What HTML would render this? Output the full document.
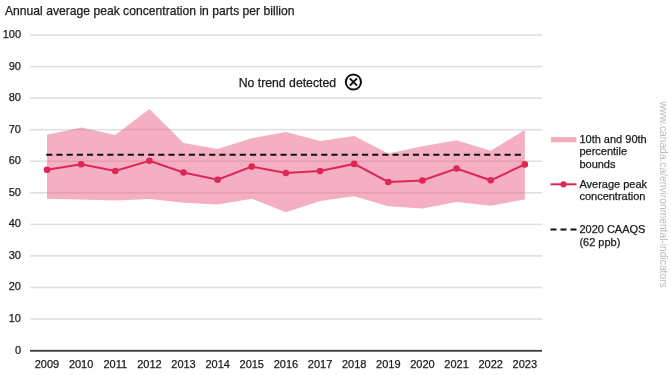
<!DOCTYPE html>
<html><head><meta charset="utf-8"><style>
html,body{margin:0;padding:0;background:#fff;}
body{width:671px;height:375px;overflow:hidden;}
svg{display:block;will-change:transform;font-family:"Liberation Sans",sans-serif;}
</style></head><body>
<svg width="671" height="375" viewBox="0 0 671 375">
<rect width="671" height="375" fill="#fff"/>
<text x="5" y="15.3" font-size="12.15" fill="#1a1a1a" stroke="#1a1a1a" stroke-width="0.25">Annual average peak concentration in parts per billion</text>
<g font-size="11" fill="#1a1a1a" stroke="#1a1a1a" stroke-width="0.25">
<text x="21" y="353.60" text-anchor="end">0</text>
<text x="21" y="322.04" text-anchor="end">10</text>
<text x="21" y="290.48" text-anchor="end">20</text>
<text x="21" y="258.92" text-anchor="end">30</text>
<text x="21" y="227.36" text-anchor="end">40</text>
<text x="21" y="195.80" text-anchor="end">50</text>
<text x="21" y="164.24" text-anchor="end">60</text>
<text x="21" y="132.68" text-anchor="end">70</text>
<text x="21" y="101.12" text-anchor="end">80</text>
<text x="21" y="69.56" text-anchor="end">90</text>
<text x="21" y="38.00" text-anchor="end">100</text>

</g>
<rect x="30" y="318.24" width="512.2" height="1.6" fill="#e0e0e0"/>
<rect x="30" y="286.68" width="512.2" height="1.6" fill="#e0e0e0"/>
<rect x="30" y="255.12" width="512.2" height="1.6" fill="#e0e0e0"/>
<rect x="30" y="223.56" width="512.2" height="1.6" fill="#e0e0e0"/>
<rect x="30" y="192.00" width="512.2" height="1.6" fill="#e0e0e0"/>
<rect x="30" y="160.44" width="512.2" height="1.6" fill="#e0e0e0"/>
<rect x="30" y="128.88" width="512.2" height="1.6" fill="#e0e0e0"/>
<rect x="30" y="97.32" width="512.2" height="1.6" fill="#e0e0e0"/>
<rect x="30" y="65.76" width="512.2" height="1.6" fill="#e0e0e0"/>
<rect x="30" y="34.20" width="512.2" height="1.6" fill="#e0e0e0"/>

<path d="M47.00,134.75 L81.13,127.50 L115.26,134.90 L149.39,109.00 L183.51,143.10 L217.64,148.90 L251.77,138.20 L285.90,132.00 L320.03,141.00 L354.16,136.00 L388.29,153.60 L422.41,146.20 L456.54,140.30 L490.67,150.80 L524.80,130.00 L524.80,199.50 L490.67,205.80 L456.54,202.10 L422.41,208.50 L388.29,206.20 L354.16,196.20 L320.03,201.00 L285.90,212.20 L251.77,198.70 L217.64,204.40 L183.51,202.70 L149.39,198.90 L115.26,200.50 L81.13,199.50 L47.00,198.70 Z" fill="#e8577f" fill-opacity="0.48"/>
<line x1="46.26" y1="154.8" x2="521" y2="154.8" stroke="#111" stroke-width="2" stroke-dasharray="6.1 4.085"/>
<path d="M47.00,169.70 L81.13,164.30 L115.26,171.00 L149.39,160.80 L183.51,172.50 L217.64,179.80 L251.77,166.60 L285.90,173.00 L320.03,171.00 L354.16,163.90 L388.29,182.00 L422.41,180.50 L456.54,168.50 L490.67,180.30 L524.80,164.40" fill="none" stroke="#de2657" stroke-width="2"/>
<g fill="#de2657"><circle cx="47.00" cy="169.70" r="3.3"/><circle cx="81.13" cy="164.30" r="3.3"/><circle cx="115.26" cy="171.00" r="3.3"/><circle cx="149.39" cy="160.80" r="3.3"/><circle cx="183.51" cy="172.50" r="3.3"/><circle cx="217.64" cy="179.80" r="3.3"/><circle cx="251.77" cy="166.60" r="3.3"/><circle cx="285.90" cy="173.00" r="3.3"/><circle cx="320.03" cy="171.00" r="3.3"/><circle cx="354.16" cy="163.90" r="3.3"/><circle cx="388.29" cy="182.00" r="3.3"/><circle cx="422.41" cy="180.50" r="3.3"/><circle cx="456.54" cy="168.50" r="3.3"/><circle cx="490.67" cy="180.30" r="3.3"/><circle cx="524.80" cy="164.40" r="3.3"/></g>
<rect x="30" y="349.9" width="512" height="1.8" fill="#3a3a3a"/>
<g font-size="11" fill="#1a1a1a" stroke="#1a1a1a" stroke-width="0.25"><text x="47.00" y="367.6" text-anchor="middle">2009</text><text x="81.13" y="367.6" text-anchor="middle">2010</text><text x="115.26" y="367.6" text-anchor="middle">2011</text><text x="149.39" y="367.6" text-anchor="middle">2012</text><text x="183.51" y="367.6" text-anchor="middle">2013</text><text x="217.64" y="367.6" text-anchor="middle">2014</text><text x="251.77" y="367.6" text-anchor="middle">2015</text><text x="285.90" y="367.6" text-anchor="middle">2016</text><text x="320.03" y="367.6" text-anchor="middle">2017</text><text x="354.16" y="367.6" text-anchor="middle">2018</text><text x="388.29" y="367.6" text-anchor="middle">2019</text><text x="422.41" y="367.6" text-anchor="middle">2020</text><text x="456.54" y="367.6" text-anchor="middle">2021</text><text x="490.67" y="367.6" text-anchor="middle">2022</text><text x="524.80" y="367.6" text-anchor="middle">2023</text></g>
<text x="238.7" y="86.6" font-size="12.25" fill="#1a1a1a" stroke="#1a1a1a" stroke-width="0.25">No trend detected</text>
<circle cx="353.4" cy="82.0" r="7.6" fill="none" stroke="#111" stroke-width="2"/>
<path d="M349.8,78.4 L357.0,85.6 M357.0,78.4 L349.8,85.6" stroke="#111" stroke-width="2"/>
<rect x="550.8" y="137.1" width="25.5" height="5.2" fill="#f2acbd"/>
<g font-size="11" fill="#1a1a1a" stroke="#1a1a1a" stroke-width="0.25">
<text x="579.4" y="142.6">10th and 90th</text>
<text x="579.4" y="155.1">percentile</text>
<text x="579.4" y="167.6">bounds</text>
<text x="579.4" y="187.9">Average peak</text>
<text x="579.4" y="200.4">concentration</text>
<text x="579.4" y="233.0">2020 CAAQS</text>
<text x="579.4" y="245.5">(62 ppb)</text>
</g>
<line x1="550.5" y1="184.3" x2="576.5" y2="184.3" stroke="#de2657" stroke-width="2"/>
<circle cx="563.5" cy="184.3" r="3.1" fill="#de2657"/>
<line x1="550.5" y1="229.5" x2="576.5" y2="229.5" stroke="#111" stroke-width="2" stroke-dasharray="6 4"/>
<text transform="translate(660,101.4) rotate(90)" font-size="10.25" fill="#bbb">www.canada.ca/environmental-indicators</text>
</svg>
</body></html>
